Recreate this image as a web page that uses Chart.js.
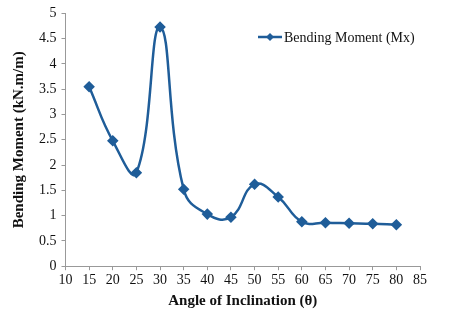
<!DOCTYPE html>
<html>
<head>
<meta charset="utf-8">
<script src="https://cdn.jsdelivr.net/npm/chart.js@4.4.0/dist/chart.umd.min.js"></script>
<style>
html, body { margin: 0; padding: 0; background: #fff; }
#wrap { width: 464px; height: 318px; }
</style>
</head>
<body>
<div id="wrap"><canvas id="myChart" width="464" height="318"></canvas></div>
<script>
// angle of inclination (deg) and bending moment
let angles = [15, 20, 25, 30, 35, 40, 45, 50, 55, 60, 65, 70, 75, 80]
let moment = [3.55, 2.48, 1.85, 4.73, 1.52, 1.03, 0.97, 1.62, 1.37, 0.88, 0.86, 0.85, 0.84, 0.82]
let seriesName = 'Bending Moment (Mx)'
let lineColor = '#1f5d99'

let points = angles.map((a, i) => ({x: a, y: moment[i]}))

// legend drawn inside the plot, like the original
const insideLegend = {
    id: 'insideLegend',
    afterDraw(chart) {
        const ctx = chart.ctx
        const x0 = 258, y0 = 37
        ctx.save()
        ctx.strokeStyle = lineColor
        ctx.lineWidth = 2.5
        ctx.beginPath()
        ctx.moveTo(x0, y0)
        ctx.lineTo(x0 + 24, y0)
        ctx.stroke()
        ctx.fillStyle = lineColor
        ctx.beginPath()
        ctx.moveTo(x0 + 12, y0 - 4)
        ctx.lineTo(x0 + 16, y0)
        ctx.lineTo(x0 + 12, y0 + 4)
        ctx.lineTo(x0 + 8, y0)
        ctx.closePath()
        ctx.fill()
        ctx.fillStyle = '#111'
        ctx.font = '14px "Liberation Serif"'
        ctx.textBaseline = 'middle'
        ctx.fillText(seriesName, x0 + 26, y0 + 1)
        ctx.restore()
    }
}

const tickFont = {family: 'Liberation Serif', size: 14}
const titleFont = {family: 'Liberation Serif', size: 15, weight: 'bold'}

var ctx = document.getElementById('myChart').getContext('2d')
var myChart = new Chart(ctx, {
    type: 'line',
    data: {
        datasets: [{
            label: seriesName,
            data: points,
            borderColor: lineColor,
            backgroundColor: lineColor,
            borderWidth: 2.5,
            tension: 0.45,
            pointStyle: 'rectRot',
            pointRadius: 4,
            pointHoverRadius: 4
        }]
    },
    plugins: [insideLegend],
    options: {
        responsive: false,
        animation: false,
        layout: {padding: {left: 6, right: 44, top: 8, bottom: 4}},
        plugins: {
            legend: {display: false},
            tooltip: {enabled: false}
        },
        scales: {
            x: {
                type: 'linear',
                min: 10,
                max: 85,
                ticks: {stepSize: 5, color: '#111', padding: 2, font: tickFont},
                grid: {drawOnChartArea: false, color: '#999', tickLength: 4},
                border: {color: '#999'},
                title: {display: true, text: 'Angle of Inclination (θ)', color: '#111', padding: {top: 1},
                    font: titleFont}
            },
            y: {
                min: 0,
                max: 5,
                ticks: {stepSize: 0.5, color: '#111', padding: 5, font: tickFont, callback: v => String(v)},
                grid: {drawOnChartArea: false, color: '#999', tickLength: 4},
                border: {color: '#999'},
                title: {display: true, text: 'Bending Moment (kN.m/m)', color: '#111', padding: {bottom: 6},
                    font: titleFont}
            }
        }
    }
})
</script>
</body>
</html>
